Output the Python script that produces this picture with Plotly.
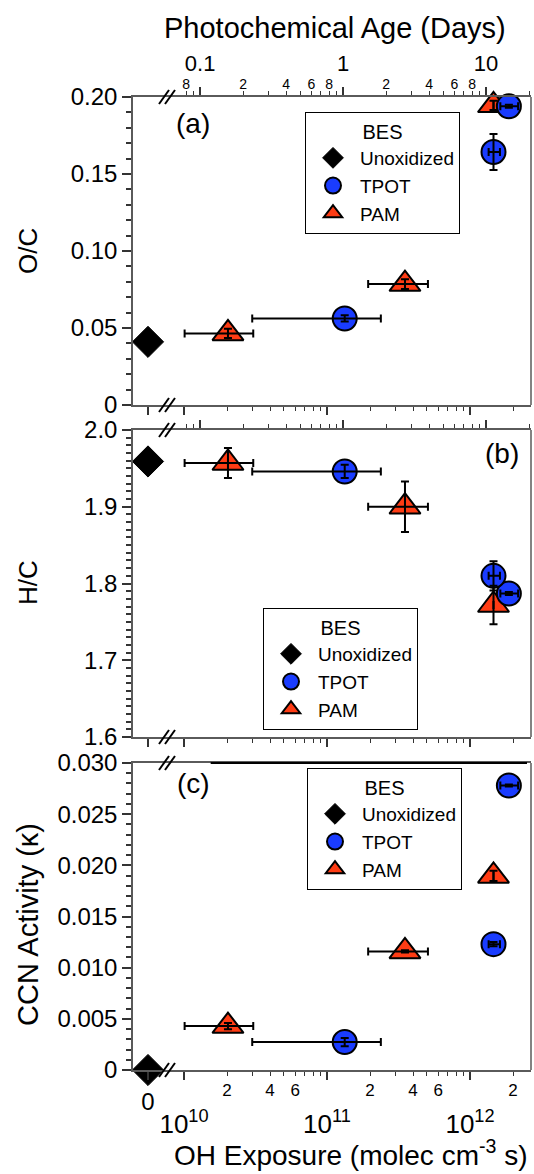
import math
import plotly.graph_objects as go

# ---------------- data ----------------
# OH exposure (molec cm-3 s)
unox_x = [0]
unox_oc = [0.041]
unox_hc = [1.959]
unox_k = [0.0]

tpot_x = [1.33e11, 1.87e12, 1.46e12]
tpot_xerr_minus = [1.03e11, 0.24e12, 0.11e12]
tpot_xerr_plus = [1.05e11, 0.30e12, 0.16e12]
tpot_oc = [0.0562, 0.194, 0.1643]
tpot_oc_err = [0.002, 0.001, 0.0117]
tpot_hc = [1.946, 1.787, 1.810]
tpot_hc_err = [0.0087, 0.002, 0.019]
tpot_k = [0.00273, 0.0278, 0.0123]
tpot_k_err = [0.0004, 0.0001, 0.0002]

pam_x = [2.03e10, 3.51e11, 1.46e12]
pam_xerr = [1.02e10, 1.57e11, 0.0]
pam_oc = [0.0465, 0.0785, 0.1946]
pam_oc_err = [0.003, 0.0032, 0.003]
pam_hc = [1.957, 1.900, 1.772]
pam_hc_err = [0.0195, 0.033, 0.025]
pam_k = [0.00429, 0.01159, 0.01896]
pam_k_err = [0.0003, 0.0001, 0.0005]

# axis tick labels
oc_ticks = [0, 0.05, 0.10, 0.15, 0.20]
oc_ticktext = ["0", "0.05", "0.10", "0.15", "0.20"]
hc_ticks = [1.6, 1.7, 1.8, 1.9, 2.0]
hc_ticktext = ["1.6", "1.7", "1.8", "1.9", "2.0"]
k_ticks = [0, 0.005, 0.010, 0.015, 0.020, 0.025, 0.030]
k_ticktext = ["0", "0.005", "0.010", "0.015", "0.020", "0.025", "0.030"]

oh_major = [1e10, 1e11, 1e12]
oh_major_text = ["10<sup>10</sup>", "10<sup>11</sup>", "10<sup>12</sup>"]
oh_minor_lab = [2e10, 4e10, 6e10, 2e11, 4e11, 6e11, 2e12]
oh_minor_text = ["2", "4", "6", "2", "4", "6", "2"]
oh_minor = [k * 10 ** n for n in (10, 11) for k in range(2, 10)] + [2e12]

day_major = [0.1, 1, 10]
day_major_text = ["0.1", "1", "10"]
day_minor_lab = [0.08, 0.2, 0.4, 0.6, 0.8, 2, 4, 6, 8]
day_minor_text = ["8", "2", "4", "6", "8", "2", "4", "6", "8"]
day_minor = [0.08, 0.09] + [k * 0.1 for k in range(2, 10)] + [k for k in range(2, 10)] + [20]

OH_PER_DAY = 1.5e6 * 86400  # molec cm-3 s per day

# ---------------- geometry ----------------
W, H = 534, 1174
L, R, T, B = 133, 3, 97, 104
pw = W - L - R
ph = H - T - B


def fx(p):
    return (p - L) / pw


def fy(p):
    return (H - B - p) / ph


dz = fx(167)
dom_a = [fy(405), fy(97)]
dom_b = [fy(737), fy(430)]
dom_c = [fy(1070), fy(763)]

log_lo = 10 - (184 - 167) / 143.0
log_hi = 12 + (531 - 470) / 143.0
day_lo = log_lo - math.log10(OH_PER_DAY)
day_hi = log_hi - math.log10(OH_PER_DAY)
zero_rng = [-1, 1.267]

FONT = "Liberation Sans, Arial, sans-serif"
AX = "#5a5a5a"
TK = "#333333"
BLUE = "#1a3cff"
RED = "#ff3c14"

base = dict(showline=True, linecolor=AX, linewidth=1.5, ticks="outside",
            tickcolor=TK, tickwidth=1.5, showgrid=False, zeroline=False,
            tickfont=dict(family=FONT, size=24, color="black"))


def minor_log(vals):
    return dict(tickmode="array", tickvals=vals, ticks="outside", ticklen=4,
                tickcolor=TK, tickwidth=1.2)


fig = go.Figure()

panels = [
    ("x", "x2", "y", unox_oc, tpot_oc, tpot_oc_err, pam_oc, pam_oc_err, "legend"),
    ("x5", "x6", "y2", unox_hc, tpot_hc, tpot_hc_err, pam_hc, pam_hc_err, "legend2"),
    ("x8", "x9", "y3", unox_k, tpot_k, tpot_k_err, pam_k, pam_k_err, "legend3"),
]

for zx, lx, yy, uy, ty, tye, py_, pye, lg in panels:
    fig.add_trace(go.Scatter(
        x=unox_x, y=uy, xaxis=zx, yaxis=yy, mode="markers", name="Unoxidized",
        legend=lg, legendrank=1, cliponaxis=False,
        marker=dict(symbol="diamond", size=24, color="black",
                    line=dict(color="black", width=1))))
    fig.add_trace(go.Scatter(
        x=pam_x, y=py_, xaxis=lx, yaxis=yy, mode="markers", name="PAM",
        legend=lg, legendrank=3, cliponaxis=False,
        marker=dict(symbol="triangle-up", size=27, color=RED,
                    line=dict(color="black", width=2))))
    fig.add_trace(go.Scatter(
        x=tpot_x, y=ty, xaxis=lx, yaxis=yy, mode="markers", name="TPOT",
        legend=lg, legendrank=2, cliponaxis=False,
        marker=dict(symbol="circle", size=24, color=BLUE,
                    line=dict(color="black", width=2))))
    # error bars drawn above the markers
    fig.add_trace(go.Scatter(
        x=tpot_x, y=ty, xaxis=lx, yaxis=yy, mode="markers", showlegend=False,
        hoverinfo="skip", cliponaxis=False,
        marker=dict(size=1, color="rgba(0,0,0,0)"),
        error_x=dict(type="data", array=tpot_xerr_plus, arrayminus=tpot_xerr_minus,
                     color="black", thickness=2, width=4),
        error_y=dict(type="data", array=tye, color="black", thickness=2, width=4)))
    fig.add_trace(go.Scatter(
        x=pam_x, y=py_, xaxis=lx, yaxis=yy, mode="markers", showlegend=False,
        hoverinfo="skip", cliponaxis=False,
        marker=dict(size=1, color="rgba(0,0,0,0)"),
        error_x=dict(type="data", array=pam_xerr, color="black", thickness=2, width=4),
        error_y=dict(type="data", array=pye, color="black", thickness=2, width=4)))

# carrier traces so that the overlaying scale axes are drawn
for ax, yy, xs in (("x3", "y", day_major), ("x4", "y", day_minor_lab),
                   ("x7", "y2", day_major), ("x10", "y3", oh_minor_lab)):
    fig.add_trace(go.Scatter(x=xs, y=[None] * len(xs), xaxis=ax, yaxis=yy, mode="markers",
                             showlegend=False, hoverinfo="skip",
                             marker=dict(size=1, color="rgba(0,0,0,0)")))

layout = dict(
    width=W, height=H, margin=dict(l=L, r=R, t=T, b=B),
    paper_bgcolor="white", plot_bgcolor="white",
    font=dict(family=FONT, color="black"),
)

# panel a
layout["xaxis"] = dict(base, domain=[0, dz], anchor="y", range=zero_rng, tickvals=[0],
                       showticklabels=False, ticklen=8, mirror=True)
layout["xaxis2"] = dict(base, domain=[dz, 1], anchor="y", type="log", range=[log_lo, log_hi],
                        tickvals=oh_major, showticklabels=False, ticklen=8,
                        minor=minor_log(oh_minor))
layout["xaxis3"] = dict(base, overlaying="x2", side="top", anchor="y", type="log",
                        range=[day_lo, day_hi], tickvals=day_major, ticktext=day_major_text,
                        ticklen=8, ticklabelstandoff=7,
                        tickfont=dict(family=FONT, size=22, color="black"),
                        minor=minor_log(day_minor))
layout["xaxis4"] = dict(overlaying="x2", side="top", anchor="y", type="log",
                        range=[day_lo, day_hi], tickvals=day_minor_lab, ticktext=day_minor_text,
                        ticks="", showline=False, showgrid=False, zeroline=False,
                        ticklabelstandoff=4,
                        tickfont=dict(family=FONT, size=14, color="black"))
layout["yaxis"] = dict(base, domain=dom_a, anchor="x", range=[0, 0.2], tickvals=oc_ticks,
                       ticktext=oc_ticktext, ticklen=9,
                       minor=dict(dtick=0.01, ticks="outside", ticklen=5, tickcolor=TK))
# panel b
layout["xaxis5"] = dict(base, domain=[0, dz], anchor="y2", range=zero_rng, tickvals=[0],
                        showticklabels=False, ticklen=8, mirror=True)
layout["xaxis6"] = dict(base, domain=[dz, 1], anchor="y2", type="log", range=[log_lo, log_hi],
                        tickvals=oh_major, showticklabels=False, ticklen=8,
                        minor=minor_log(oh_minor))
layout["xaxis7"] = dict(base, overlaying="x6", side="top", anchor="y2", type="log",
                        range=[day_lo, day_hi], tickvals=day_major, showticklabels=False,
                        ticklen=8, minor=minor_log(day_minor))
layout["yaxis2"] = dict(base, domain=dom_b, anchor="x5", range=[1.6, 2.0], tickvals=hc_ticks,
                        ticktext=hc_ticktext, ticklen=9,
                        minor=dict(dtick=0.01, ticks="outside", ticklen=5, tickcolor=TK))
# panel c
layout["xaxis8"] = dict(base, domain=[0, dz], anchor="y3", range=zero_rng, tickvals=[0],
                        ticktext=["0"], ticklen=8, mirror=True, ticklabelstandoff=1,
                        tickfont=dict(family=FONT, size=24, color="black"))
layout["xaxis9"] = dict(base, domain=[dz, 1], anchor="y3", type="log", range=[log_lo, log_hi],
                        tickvals=oh_major, ticktext=oh_major_text, ticklen=8, mirror=True,
                        ticklabelstandoff=22,
                        tickfont=dict(family=FONT, size=26, color="black"),
                        minor=minor_log(oh_minor))
layout["xaxis10"] = dict(overlaying="x9", side="bottom", anchor="y3", type="log",
                         range=[log_lo, log_hi], tickvals=oh_minor_lab, ticktext=oh_minor_text,
                         ticks="", showline=False, showgrid=False, zeroline=False,
                         ticklabelstandoff=8,
                         tickfont=dict(family=FONT, size=17, color="black"))
layout["yaxis3"] = dict(base, domain=dom_c, anchor="x8", range=[0, 0.030], tickvals=k_ticks,
                        ticktext=k_ticktext, ticklen=9,
                        minor=dict(dtick=0.001, ticks="outside", ticklen=5, tickcolor=TK))

leg = dict(bgcolor="white", bordercolor="black", borderwidth=1, xanchor="left",
           yanchor="top", itemwidth=44, traceorder="normal",
           font=dict(family=FONT, size=19, color="black"),
           title=dict(text="BES", side="top center", font=dict(family=FONT, size=20, color="black")))
layout["legend"] = dict(leg, x=fx(305), y=fy(112))
layout["legend2"] = dict(leg, x=fx(263), y=fy(608))
layout["legend3"] = dict(leg, x=fx(307), y=fy(768))

fig.update_layout(**layout)

# frame lines on the right, axis breaks
shapes = []
for yr in ("y", "y2", "y3"):
    shapes.append(dict(type="line", xref="paper", x0=1, x1=1, yref=yr + " domain", y0=0, y1=1,
                       line=dict(color=AX, width=1.5)))
for dom in (dom_a, dom_b, dom_c):
    for yv in dom:
        for off in (-3, 3):
            shapes.append(dict(type="line", xref="paper", xsizemode="pixel", xanchor=dz,
                               x0=off - 5, x1=off + 5, yref="paper", ysizemode="pixel",
                               yanchor=yv, y0=-7, y1=7, line=dict(color="black", width=2)))
shapes.append(dict(type="line", xref="x9 domain", x0=0.12, x1=0.989, yref="y3 domain",
                   y0=1, y1=1, line=dict(color="black", width=2)))
fig.update_layout(shapes=shapes)

ann = [
    dict(text="Photochemical Age (Days)", x=fx(335), y=fy(28), size=29, angle=0),
    dict(text="OH Exposure (molec cm<sup>-3</sup> s)", x=fx(351), y=fy(1153), size=28, angle=0),
    dict(text="O/C", x=fx(28), y=fy(251), size=26, angle=-90),
    dict(text="H/C", x=fx(28), y=fy(583), size=26, angle=-90),
    dict(text="CCN Activity (\u03ba)", x=fx(28), y=fy(925), size=29, angle=-90),
    dict(text="(a)", x=fx(193), y=fy(123), size=28, angle=0),
    dict(text="(b)", x=fx(502), y=fy(453), size=28, angle=0),
    dict(text="(c)", x=fx(193), y=fy(783), size=28, angle=0),
]
for a in ann:
    fig.add_annotation(text=a["text"], x=a["x"], y=a["y"], xref="paper", yref="paper",
                       xanchor="center", yanchor="middle", showarrow=False,
                       textangle=a["angle"], font=dict(family=FONT, size=a["size"], color="black"))

fig.write_html("out.html")
